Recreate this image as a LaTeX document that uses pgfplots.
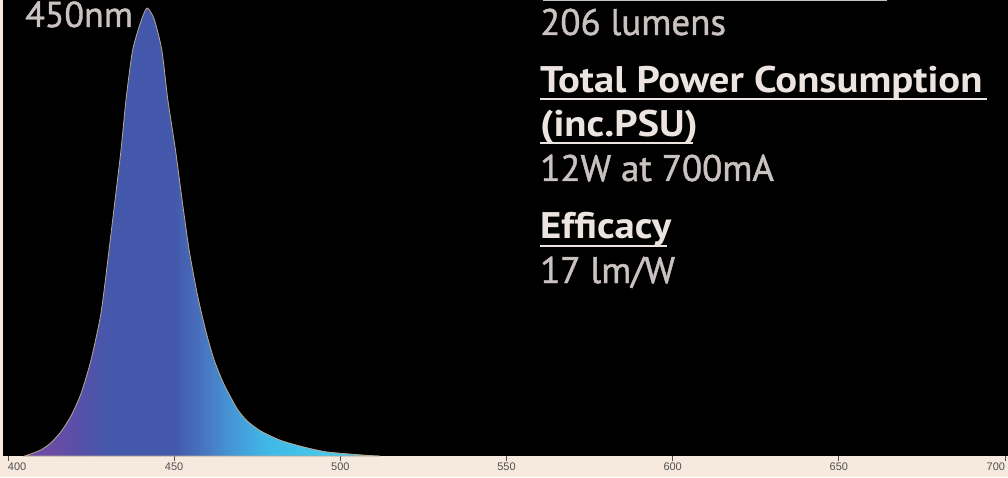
\documentclass[border=0pt]{standalone}
\usepackage{pgfplots}
\pgfplotsset{compat=1.18}
\usepackage{pgfplotstable}
\usepackage{fontspec}
\setmainfont{PT Sans}
\newfontfamily\reg{PT Sans}[FakeBold=1.2]
\newfontfamily\bld{PT Sans}[FakeStretch=1.1]
\newfontfamily\arial{Liberation Sans}
\definecolor{beige}{HTML}{F6EADF}
\definecolor{txtreg}{HTML}{C9C2C0}
\definecolor{txtbold}{HTML}{ECE4E0}
\definecolor{edge}{HTML}{B8A890}
\definecolor{tickc}{HTML}{505050}
\definecolor{s1}{HTML}{6A4CA4}
\definecolor{s2}{HTML}{5A4FA8}
\definecolor{s3}{HTML}{4A56AA}
\definecolor{s4}{HTML}{4358AB}
\definecolor{s5}{HTML}{4870BC}
\definecolor{s6}{HTML}{4596D6}
\definecolor{s7}{HTML}{40B8E6}
\definecolor{s8}{HTML}{44C8EC}
\pgfdeclarehorizontalshading{spec}{100bp}{color(0bp)=(s1); color(28.5bp)=(s1); color(32bp)=(s2); color(35.6bp)=(s3); color(37.5bp)=(s4); color(46bp)=(s4); color(49.5bp)=(s5); color(54bp)=(s6); color(59bp)=(s7); color(67bp)=(s8); color(100bp)=(s8)}
\pgfplotstableread{
x y
405 0
407 0.005
410 0.014
413 0.030
416 0.055
419 0.090
422 0.140
425 0.215
428 0.320
430.4 0.460
432.2 0.571
434.0 0.683
435.5 0.795
437.5 0.906
440.2 0.975
441.9 1.0
444.0 0.975
446.3 0.906
448.1 0.795
450.4 0.683
452.4 0.571
454.5 0.460
457.0 0.360
459.5 0.280
462.0 0.215
465.0 0.160
469.0 0.105
472.0 0.078
476.0 0.056
482.0 0.035
489.0 0.020
496.0 0.009
507.0 0.002
512 0
}\spec
\begin{document}
\begin{tikzpicture}[x=1pt,y=1pt]
\useasboundingbox (0,0) rectangle (1008,477);
\fill[black] (0,0) rectangle (1008,477);
\fill[beige] (0,0) rectangle (1008,21);
\fill[beige] (0,0) rectangle (3,477);
\begin{axis}[
  at={(0pt,21pt)}, anchor=south west,
  scale only axis, width=1008pt, height=456pt,
  xmin=397.593, xmax=700.903, ymin=0, ymax=1.018,
  axis line style={draw=none},
  ytick=\empty,
  xtick={400,450,500,550,600,650,700},
  xticklabels={\rlap{400},450,500,550,600,650,\llap{700}},
  xtick pos=bottom, tick align=outside,
  major tick length=5pt,
  tick style={tickc, line width=0.8pt},
  xticklabel style={font=\arial\fontsize{11}{11}\selectfont, text=tickc, inner sep=1.5pt},
  clip=false,
]
\addplot[shade, shading=spec, draw=edge, line width=0.8pt, smooth, tension=0.4] table[x=x,y=y] {\spec} \closedcycle;
\end{axis}
\node[anchor=base west, text=txtreg, font=\reg\fontsize{36}{36}\selectfont, inner sep=0] at (25,450) {450nm};
\draw[txtreg, line width=1.5pt] (543,476.3) -- (887,476.3);
\node[anchor=base west, text=txtreg, font=\reg\fontsize{37}{37}\selectfont, inner sep=0] at (540,442) {206 lumens};
\node[anchor=base west, text=txtbold, font=\bld\bfseries\fontsize{37}{37}\selectfont, inner sep=0] at (540,384) {Total Power Consumption};
\draw[txtbold, line width=2pt] (540,378) -- (987,378);
\node[anchor=base west, text=txtbold, font=\bld\bfseries\fontsize{37}{37}\selectfont, inner sep=0] at (540,340) {(inc.PSU)};
\draw[txtbold, line width=2pt] (540,334) -- (693,334);
\node[anchor=base west, text=txtreg, font=\reg\fontsize{37}{37}\selectfont, inner sep=0] at (540,296) {12W at 700mA};
\node[anchor=base west, text=txtbold, font=\bld\bfseries\fontsize{37}{37}\selectfont, inner sep=0] at (540,239) {Efficacy};
\draw[txtbold, line width=2pt] (540,231) -- (667,231);
\node[anchor=base west, text=txtreg, font=\reg\fontsize{37}{37}\selectfont, inner sep=0] at (540,194) {17 lm/W};
\end{tikzpicture}
\end{document}
